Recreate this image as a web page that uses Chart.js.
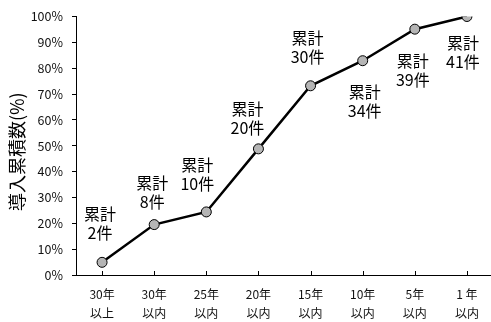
<!DOCTYPE html>
<html>
<head>
<meta charset="utf-8">
<script src="https://cdn.jsdelivr.net/npm/chart.js@4"></script>
<style>
  html, body { margin: 0; padding: 0; background: #fff; overflow: hidden; }
  #wrap { width: 491px; height: 322px; overflow: hidden; }
</style>
</head>
<body>
<div id="wrap"><canvas id="chart" width="499" height="322"></canvas></div>
<script>
// data
const periods = [["30年", "以上"], ["30年", "以内"], ["25年", "以内"], ["20年", "以内"],
                 ["15年", "以内"], ["10年", "以内"], ["5年", "以内"], ["1 年", "以内"]];
const cumulativePct = [4.9, 19.5, 24.4, 48.8, 73.2, 82.9, 95.1, 100];
const cumulativeCount = [2, 8, 10, 20, 30, 34, 39, 41];
const yTicks = [0, 10, 20, 30, 40, 50, 60, 70, 80, 90, 100];
const yTitle = "導入累積数(%)";

const FONT = "'Noto Sans CJK JP', 'Noto Sans', sans-serif";

// where each "累計 n件" label sits relative to its point (dx, dy of first line)
const labelPlace = [[-2, -48], [-2, -42], [-9, -47], [-11, -40],
                    [-3, -48], [2, 31], [-2, 32], [-4, 26]];

const labelPlugin = {
  id: "countLabels",
  afterDatasetsDraw(chart) {
    const ctx = chart.ctx;
    const meta = chart.getDatasetMeta(0);
    ctx.save();
    ctx.fillStyle = "#000";
    ctx.font = "16px " + FONT;
    ctx.textAlign = "center";
    ctx.textBaseline = "middle";
    meta.data.forEach((pt, i) => {
      const [dx, dy] = labelPlace[i];
      ctx.fillText("累計", pt.x + dx, pt.y + dy);
      ctx.fillText(cumulativeCount[i] + "件", pt.x + dx, pt.y + dy + 19);
    });
    ctx.restore();
  },
};

const axisPlugin = {
  id: "axisExtras",
  afterDraw(chart) {
    const ctx = chart.ctx;
    const xs = chart.scales.x;
    const area = chart.chartArea;
    ctx.save();
    // inward tick marks on the x axis
    ctx.strokeStyle = "#000";
    ctx.lineWidth = 1;
    ctx.beginPath();
    periods.forEach((p, i) => {
      const x = Math.round(xs.getPixelForValue(i)) + 0.5;
      ctx.moveTo(x, area.bottom);
      ctx.lineTo(x, area.bottom - 4);
    });
    ctx.stroke();
    // y axis title
    ctx.fillStyle = "#000";
    ctx.font = "18px " + FONT;
    ctx.textAlign = "center";
    ctx.textBaseline = "middle";
    ctx.translate(17, (area.top + area.bottom) / 2 + 6);
    ctx.rotate(-Math.PI / 2);
    ctx.fillText(yTitle, 0, 0);
    ctx.restore();
  },
};

new Chart(document.getElementById("chart"), {
  type: "line",
  data: {
    labels: periods,
    datasets: [{
      data: cumulativePct,
      borderColor: "#000",
      borderWidth: 2.5,
      backgroundColor: "#b5b5b5",
      pointBackgroundColor: "#b5b5b5",
      pointBorderColor: "#000",
      pointBorderWidth: 1,
      pointRadius: 5,
      tension: 0,
      fill: false,
    }],
  },
  options: {
    responsive: false,
    animation: false,
    devicePixelRatio: 1,
    layout: { padding: { top: 16, left: 0, right: 0, bottom: 0 } },
    plugins: {
      legend: { display: false },
      tooltip: { enabled: false },
    },
    scales: {
      x: {
        offset: true,
        grid: { display: false, drawTicks: false },
        border: { display: true, color: "#000", width: 1 },
        ticks: {
          color: "#111",
          padding: 10,
          maxRotation: 0,
          autoSkip: false,
          font: { family: FONT, size: 12, lineHeight: 1.6 },
        },
        afterFit(scale) { scale.height = 47; },
      },
      y: {
        min: 0,
        max: 100,
        afterBuildTicks(scale) { scale.ticks = yTicks.map(v => ({ value: v })); },
        grid: { display: true, drawOnChartArea: false, drawTicks: true, tickLength: 4, color: "#000" },
        border: { display: true, color: "#000", width: 1 },
        ticks: {
          color: "#111",
          padding: 9,
          font: { family: FONT, size: 12.5 },
          callback: (v) => v + "%",
        },
        afterFit(scale) { scale.width = 76; },
      },
    },
  },
  plugins: [labelPlugin, axisPlugin],
});
</script>
</body>
</html>
